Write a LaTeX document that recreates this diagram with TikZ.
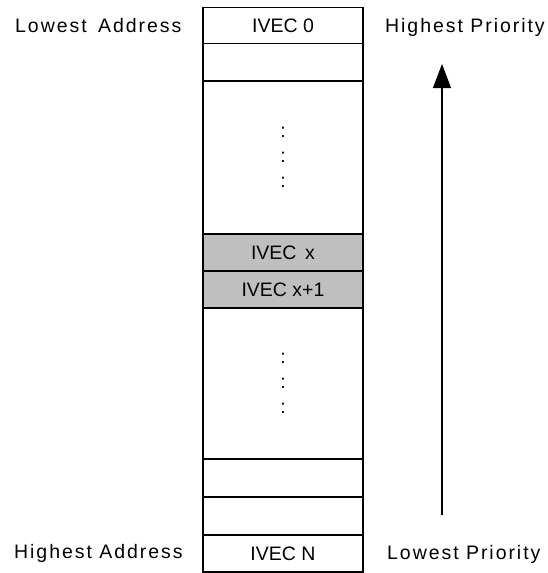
\documentclass[tikz,border=0pt]{standalone}
\usepackage{fontspec}
\setmainfont{Liberation Sans}
\newfontfamily\spaced[LetterSpace=10]{Liberation Sans}
\usetikzlibrary{arrows.meta}
\tikzset{
  cell/.style={draw,line width=1.2pt,minimum width=160pt,inner sep=0pt,align=center},
  slot/.style={cell,fill=black!25},
  side/.style={inner sep=0pt,anchor=base west,font=\spaced\fontsize{19.5}{25}\selectfont}
}
\begin{document}
\begin{tikzpicture}[x=1pt,y=-1pt,font=\fontsize{19.5}{25}\selectfont]
\useasboundingbox (0,0) rectangle (548,573);
% vector table
\node[cell,minimum height=36pt,name=r0] at (283,25.5) {IVEC 0};
\node[cell,minimum height=37.5pt,name=r1] at (283,62.25) {};
\node[cell,minimum height=153pt,name=r2] at (283,157.5) {:\\:\\:};
\node[slot,minimum height=37pt,name=r3] at (283,252.5) {IVEC\, x};
\node[slot,minimum height=37pt,name=r4] at (283,289.5) {IVEC x+1};
\node[cell,minimum height=151pt,name=r5] at (283,383.5) {:\\:\\:};
\node[cell,minimum height=38pt,name=r6] at (283,478) {};
\node[cell,minimum height=38pt,name=r7] at (283,516) {};
\node[cell,minimum height=37pt,name=r8] at (283,553.5) {IVEC N};
% side labels
\node[side,name=la] at (15,32) {Lowest\hspace{4pt} Address};
\node[side,name=ha] at (14,558) {Highest Address};
\node[side,name=hp] at (385,32) {Highest Priority};
\node[side,name=lp] at (387,559) {Lowest Priority};
% priority arrow
\coordinate (lo) at (442,515);
\coordinate (hi) at (442,64);
\draw[-{Triangle[length=24pt,width=18pt]},line width=1.2pt,name=up] (lo) -- (hi);
\end{tikzpicture}
\end{document}
